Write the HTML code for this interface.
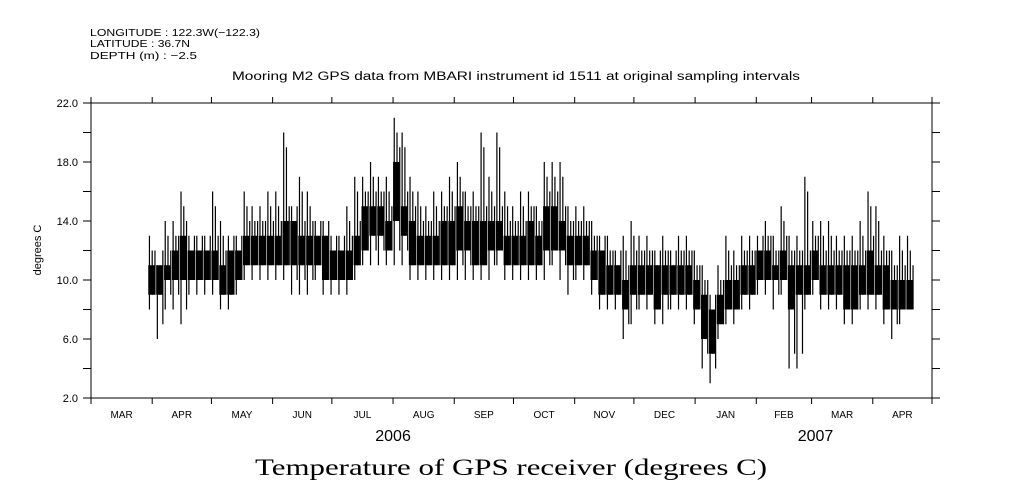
<!DOCTYPE html>
<html><head><meta charset="utf-8"><style>
html,body{margin:0;padding:0;background:#fff;}
svg{display:block;font-family:"Liberation Sans",sans-serif;}
</style></head><body>
<svg id="chart" width="1009" height="504" viewBox="0 0 1009 504">
<g font-size="10.5" fill="#000">
<text x="90" y="36" textLength="170" lengthAdjust="spacingAndGlyphs">LONGITUDE : 122.3W(−122.3)</text>
<text x="90" y="47" textLength="100" lengthAdjust="spacingAndGlyphs">LATITUDE : 36.7N</text>
<text x="90" y="59" textLength="107" lengthAdjust="spacingAndGlyphs">DEPTH (m) : −2.5</text>
</g>
<text x="232" y="80" font-size="11.5" textLength="568" lengthAdjust="spacingAndGlyphs">Mooring M2 GPS data from MBARI instrument id 1511 at original sampling intervals</text>
<text x="41" y="250" font-size="11" text-anchor="middle" transform="rotate(-90 41 250)">degrees C</text>
<text x="255" y="475" font-size="23" font-family="'Liberation Serif',serif" textLength="512" lengthAdjust="spacingAndGlyphs">Temperature of GPS receiver (degrees C)</text>
<g id="axes"></g>
<g id="series"></g>
</svg>
<script>
const yTicks = [2,4,6,8,10,12,14,16,18,20,22];
const yLabels = ["2.0","6.0","10.0","14.0","18.0","22.0"];
const monthNames = ["MAR","APR","MAY","JUN","JUL","AUG","SEP","OCT","NOV","DEC","JAN","FEB","MAR","APR"];
const monthDays = [0,31,61,92,122,153,184,214,245,275,306,337,365,396,426];
const years = ["2006","2007"];
const yearDays = [153,367];
const startDay = 29, binDays = 4;
const coreLo = [9,9,10,10,10,10,10,10,10,9,9,10,11,11,11,11,11,11,11,11,11,11,10,10,10,10,11,12,13,13,12,14,13,11,11,11,11,11,11,12,12,11,11,12,12,11,11,11,11,11,12,12,12,11,11,11,10,9,9,9,8,9,9,9,8,9,9,9,9,8,6,5,7,8,8,9,9,10,10,10,10,8,9,9,10,9,9,9,8,8,9,9,9,8,8,8,8];
const coreHi = [11,11,11,12,13,12,12,12,12,11,12,12,13,13,13,13,13,14,14,13,13,13,13,12,12,12,13,15,15,15,14,18,15,14,13,13,13,14,14,15,14,14,14,14,14,13,13,13,14,13,15,15,14,13,13,13,12,12,11,11,10,11,11,11,11,11,11,11,11,10,9,8,9,10,10,11,11,12,12,11,12,11,11,11,12,11,11,11,11,11,11,12,11,11,10,10,10];
const hi = [13,11,14,14,16,13,13,13,16,14,13,13,16,15,15,16,16,20,15,17,16,14,14,13,13,15,17,17,18,17,17,21,20,17,16,15,16,16,17,18,16,16,20,17,20,16,15,16,16,15,18,18,18,15,15,15,14,13,13,12,13,14,13,13,12,13,12,13,13,12,11,9,11,13,12,13,13,13,14,13,15,13,13,17,14,14,14,13,13,13,14,16,15,13,12,13,13];
const lo = [8,6,8,8,7,9,9,9,9,8,8,9,10,10,10,10,10,10,9,9,9,10,9,9,9,9,10,11,11,11,11,11,11,10,10,10,10,10,10,10,10,10,10,10,11,10,10,10,10,10,10,11,10,9,10,10,9,8,8,8,6,7,8,8,7,7,8,8,8,7,4,3,6,7,7,8,8,9,9,8,9,4,4,8,9,8,8,8,7,7,8,8,8,7,6,7,8];

const X0=91, X1=932, Y0=398, Y1=103;
const xs = d => X0 + d*(X1-X0)/426;
const ys = v => Y0 - (v-2)*(Y0-Y1)/20;
const NS="http://www.w3.org/2000/svg";
function mk(tag, attrs, parent){const e=document.createElementNS(NS,tag);for(const k in attrs)e.setAttribute(k,attrs[k]);parent.appendChild(e);return e;}
const axes=document.getElementById('axes'), series=document.getElementById('series');

let frame=mk('rect',{x:X0,y:Y1,width:X1-X0,height:Y0-Y1,fill:'none',stroke:'#000','stroke-width':1},axes);


yTicks.forEach(v=>{
  const y=ys(v);
  let t=mk('line',{x1:X0-8,x2:X0,y1:y,y2:y,stroke:'#000'},axes);
  
  
  let t2=mk('line',{x1:X1,x2:X1+8,y1:y,y2:y,stroke:'#000'},axes);
  
  
});
yLabels.forEach(s=>{
  let t=mk('text',{x:X0-13,y:ys(parseFloat(s))+4,'font-size':11,'text-anchor':'end'},axes);
  t.textContent=s;
  
  
});
monthDays.forEach((d,i)=>{
  const x=xs(d);
  let t=mk('line',{x1:x,x2:x,y1:Y0,y2:Y0+6,stroke:'#000'},axes);
  
  
  let t2=mk('line',{x1:x,x2:x,y1:Y1-6,y2:Y1,stroke:'#000'},axes);
  
  
  if(i<monthNames.length){
    let l=mk('text',{x:(xs(d)+xs(monthDays[i+1]))/2,y:418,'font-size':10,'text-anchor':'middle'},axes);
    l.textContent=monthNames[i];
    
    
  }
});
years.forEach((yr,i)=>{
  let l=mk('text',{x:xs(yearDays[i]),y:441,'font-size':16,'text-anchor':'middle'},axes);
  l.textContent=yr;
  
  
});
const bw = xs(binDays)-xs(0);
coreLo.forEach((c,i)=>{
  const x=xs(startDay+i*binDays);
  let r=mk('rect',{x:x,y:ys(coreHi[i]),width:bw*0.8,height:ys(c)-ys(coreHi[i]),fill:'#000'},series);
  
  
  [[0.15,hi[i],lo[i]],[0.5,hi[i]-1,c],[0.85,coreHi[i]+1,lo[i]+1]].forEach(([f,a,b])=>{
    let s=mk('line',{x1:x+bw*f,x2:x+bw*f,y1:ys(Math.max(a,coreHi[i])),y2:ys(Math.min(b,c)),stroke:'#000','stroke-width':1.2},series);
    
    
  });
});
</script>
</body></html>
